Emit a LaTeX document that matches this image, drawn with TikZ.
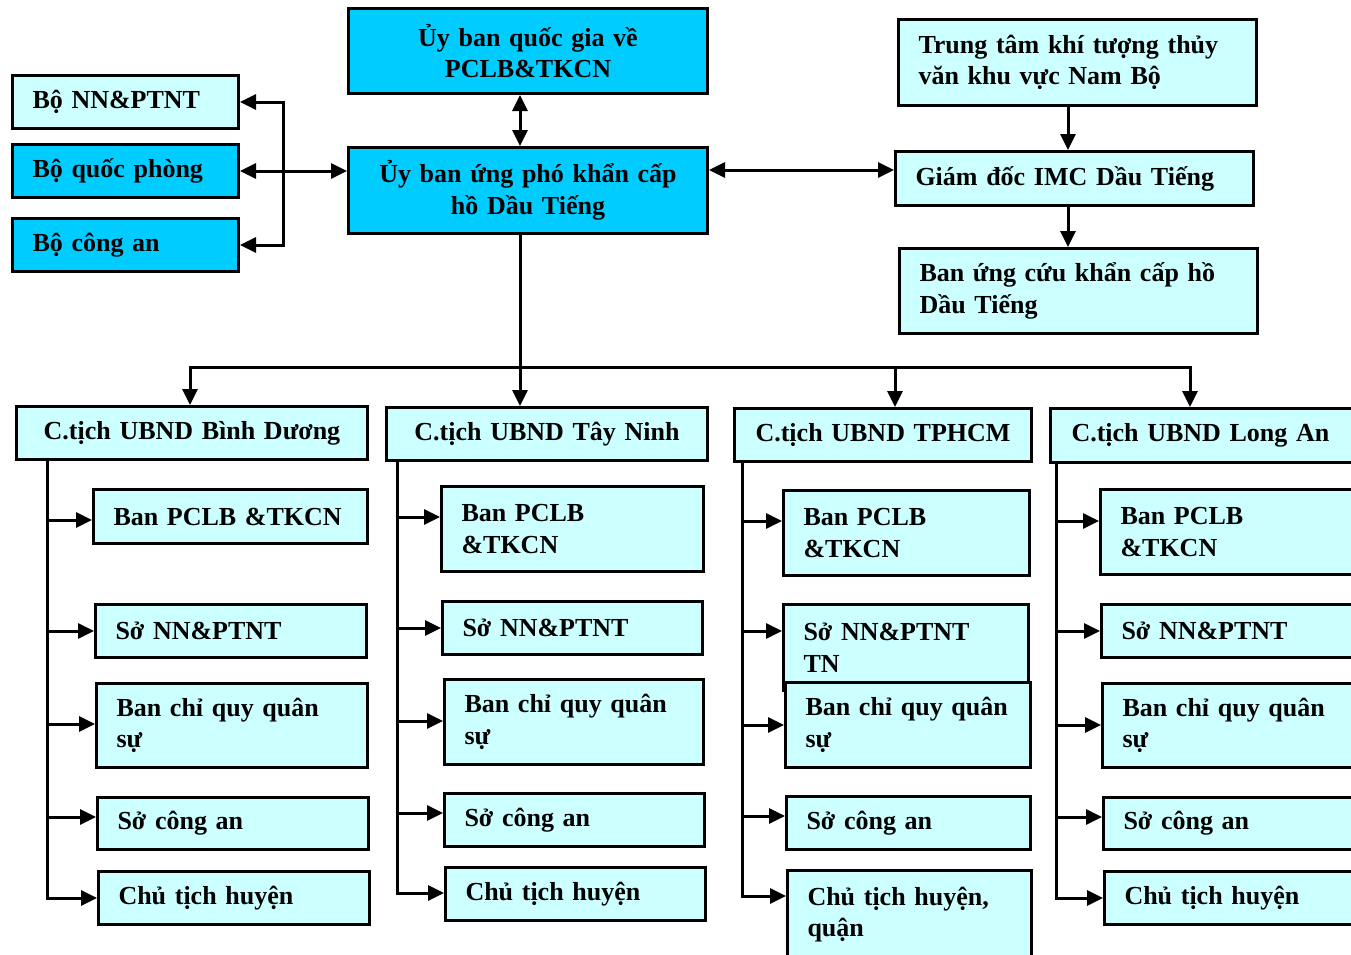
\documentclass[tikz,border=0pt]{standalone}
\usepackage{fontspec}
\setmainfont{Liberation Serif}
\usetikzlibrary{arrows.meta}
\definecolor{ubblue}{RGB}{0,204,255}
\definecolor{ublight}{RGB}{204,255,255}
\tikzset{
  box/.style={draw,line width=3pt,anchor=north west,inner xsep=20pt,inner ysep=0pt,align=left,
    font=\bfseries\fontsize{26}{31.5}\selectfont},
  hdr/.style={box,fill=ublight,inner xsep=10pt,align=center,minimum height=53pt},
  wire/.style={line width=3pt}
}
\begin{document}
\begin{tikzpicture}[x=1pt,y=-1pt,>={Triangle[length=16pt,width=15pt]}]
  \useasboundingbox (0,0) rectangle (1351,954);
  \clip (0,0) rectangle (1351,954);
  % top part
  \node[box,fill=ubblue,align=center,text width=319pt,minimum height=85pt] (qg) at (347,7) {Ủy ban quốc gia về\\PCLB\&TKCN};
  \node[box,fill=ubblue,align=center,text width=319pt,minimum height=86pt] (ub) at (347,146) {Ủy ban ứng phó khẩn cấp\\hồ Dầu Tiếng};
  \node[box,fill=ublight,text width=186pt,minimum height=53pt] (nn) at (11,74) {Bộ NN\&PTNT};
  \node[box,fill=ubblue,text width=186pt,minimum height=53pt] (qp) at (11,143) {Bộ quốc phòng};
  \node[box,fill=ubblue,text width=186pt,minimum height=53pt] (ca) at (11,217) {Bộ công an};
  \node[box,fill=ublight,text width=318pt,minimum height=86pt] (tt) at (897,18) {Trung tâm khí tượng thủy\\văn khu vực Nam Bộ};
  \node[box,fill=ublight,text width=318pt,minimum height=54pt] (gd) at (894,150) {Giám đốc IMC Dầu Tiếng};
  \node[box,fill=ublight,text width=318pt,minimum height=85pt] (uc) at (898,247) {Ban ứng cứu khẩn cấp hồ\\Dầu Tiếng};
  \coordinate (brk) at (283,170);
  \coordinate (bus) at (520,367);
  \draw[wire,<->] (qg.south -| bus) -- (ub.north -| bus);
  \draw[wire,<->] (nn.east) -| (brk) |- (ca.east);
  \draw[wire,<->] (qp.east) -- (ub.west |- qp.east);
  \draw[wire,<->] (ub.east |- 0,170) -- (gd.west |- 0,170);
  \draw[wire,->] (tt.south -| 1068,0) -- (gd.north -| 1068,0);
  \draw[wire,->] (gd.south -| 1068,0) -- (uc.north -| 1068,0);
  % provinces
  \node[hdr,text width=331pt] (hbd) at (15,405) {C.tịch UBND Bình Dương};
  \node[hdr,text width=301pt] (htn) at (385,406) {C.tịch UBND Tây Ninh};
  \node[hdr,text width=277pt] (htp) at (733,407) {C.tịch UBND TPHCM};
  \node[hdr,align=left,inner xsep=21pt,text width=308pt,minimum height=54pt] (hla) at (1049,407) {C.tịch UBND Long An};
  \draw[wire,->] (ub.south -| bus) -- (htn.north -| bus);
  \draw[wire,->] (bus) -| (hbd.north -| 190,0);
  \draw[wire,->] (bus) -| (htp.north -| 895,0);
  \draw[wire,->] (bus) -| (hla.north -| 1190,0);
  % Binh Duong
  \node[box,fill=ublight,text width=234pt,minimum height=54pt] (bd1) at (92,488) {Ban PCLB \&TKCN};
  \node[box,fill=ublight,text width=231pt,minimum height=53pt] (bd2) at (94,603) {Sở NN\&PTNT};
  \node[box,fill=ublight,text width=231pt,minimum height=84pt] (bd3) at (95,682) {Ban chỉ quy quân\\sự};
  \node[box,fill=ublight,text width=231pt,minimum height=52pt] (bd4) at (96,796) {Sở công an};
  \node[box,fill=ublight,text width=231pt,minimum height=53pt] (bd5) at (97,870) {Chủ tịch huyện};
  \coordinate (sbd) at (hbd.south -| 47,0);
  \draw[wire,->] (sbd) |- (bd5.west |- 0,898);
  \draw[wire,->] (sbd |- 0,520) -- (bd1.west |- 0,520);
  \draw[wire,->] (sbd |- 0,631) -- (bd2.west |- 0,631);
  \draw[wire,->] (sbd |- 0,724) -- (bd3.west |- 0,724);
  \draw[wire,->] (sbd |- 0,817) -- (bd4.west |- 0,817);
  % Tay Ninh
  \node[box,fill=ublight,text width=222pt,minimum height=85pt] (tn1) at (440,485) {Ban PCLB\\\&TKCN};
  \node[box,fill=ublight,text width=220pt,minimum height=53pt] (tn2) at (441,600) {Sở NN\&PTNT};
  \node[box,fill=ublight,text width=219pt,minimum height=85pt] (tn3) at (443,678) {Ban chỉ quy quân\\sự};
  \node[box,fill=ublight,text width=220pt,minimum height=53pt] (tn4) at (443,792) {Sở công an};
  \node[box,fill=ublight,text width=220pt,minimum height=53pt] (tn5) at (444,866) {Chủ tịch huyện};
  \coordinate (stn) at (htn.south -| 397,0);
  \draw[wire,->] (stn) |- (tn5.west |- 0,893);
  \draw[wire,->] (stn |- 0,517) -- (tn1.west |- 0,517);
  \draw[wire,->] (stn |- 0,628) -- (tn2.west |- 0,628);
  \draw[wire,->] (stn |- 0,721) -- (tn3.west |- 0,721);
  \draw[wire,->] (stn |- 0,813) -- (tn4.west |- 0,813);
  % TPHCM
  \node[box,fill=ublight,text width=206pt,minimum height=85pt] (tp1) at (782,489) {Ban PCLB\\\&TKCN};
  \node[box,fill=ublight,text width=205pt,minimum height=86pt] (tp2) at (782,603) {Sở NN\&PTNT\\TN};
  \node[box,fill=ublight,text width=205pt,minimum height=85pt] (tp3) at (784,681) {Ban chỉ quy quân\\sự};
  \node[box,fill=ublight,text width=204pt,minimum height=53pt] (tp4) at (785,795) {Sở công an};
  \node[box,fill=ublight,text width=204pt,minimum height=88pt] (tp5) at (786,869) {Chủ tịch huyện,\\quận};
  \coordinate (stp) at (htp.south -| 742,0);
  \draw[wire,->] (stp) |- (tp5.west |- 0,896);
  \draw[wire,->] (stp |- 0,521) -- (tp1.west |- 0,521);
  \draw[wire,->] (stp |- 0,631) -- (tp2.west |- 0,631);
  \draw[wire,->] (stp |- 0,725) -- (tp3.west |- 0,725);
  \draw[wire,->] (stp |- 0,816) -- (tp4.west |- 0,816);
  % Long An
  \node[box,fill=ublight,text width=260pt,minimum height=85pt] (la1) at (1099,488) {Ban PCLB\\\&TKCN};
  \node[box,fill=ublight,text width=259pt,minimum height=53pt] (la2) at (1100,603) {Sở NN\&PTNT};
  \node[box,fill=ublight,text width=258pt,minimum height=84pt] (la3) at (1101,682) {Ban chỉ quy quân\\sự};
  \node[box,fill=ublight,text width=257pt,minimum height=52pt] (la4) at (1102,796) {Sở công an};
  \node[box,fill=ublight,text width=256pt,minimum height=53pt] (la5) at (1103,870) {Chủ tịch huyện};
  \coordinate (sla) at (hla.south -| 1056,0);
  \draw[wire,->] (sla) |- (la5.west |- 0,898);
  \draw[wire,->] (sla |- 0,521) -- (la1.west |- 0,521);
  \draw[wire,->] (sla |- 0,631) -- (la2.west |- 0,631);
  \draw[wire,->] (sla |- 0,725) -- (la3.west |- 0,725);
  \draw[wire,->] (sla |- 0,817) -- (la4.west |- 0,817);
\end{tikzpicture}
\end{document}
